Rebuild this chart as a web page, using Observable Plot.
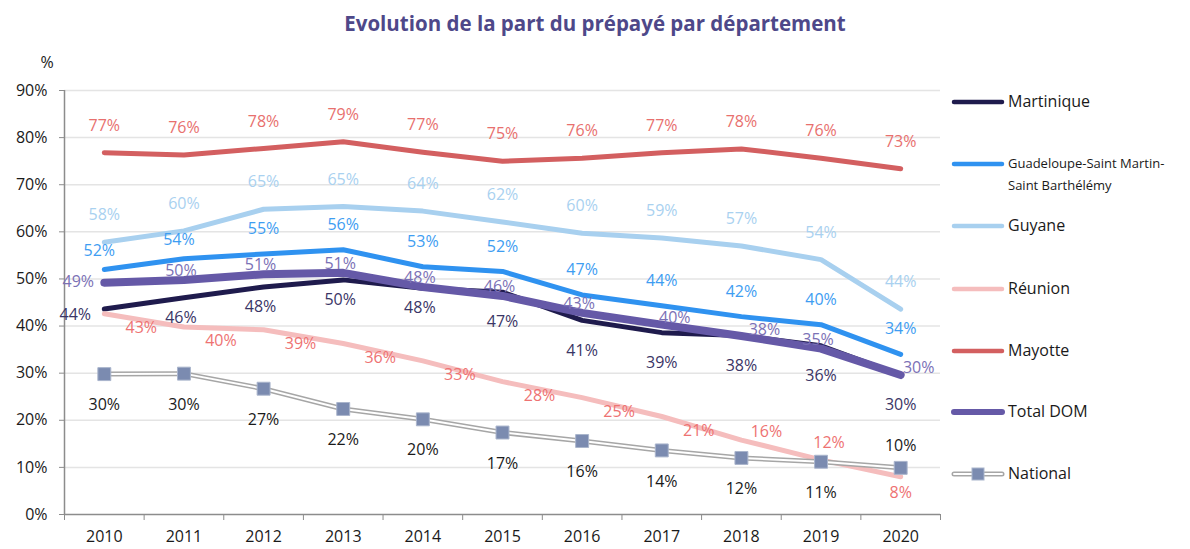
<!DOCTYPE html>
<html><head><meta charset="utf-8">
<script src="https://cdn.jsdelivr.net/npm/d3@7"></script>
<script src="https://cdn.jsdelivr.net/npm/@observablehq/plot@0.6"></script>
<style>
body{margin:0;background:#fff;font-family:"Open Sans",sans-serif;}
#wrap{position:relative;width:1190px;height:549px;overflow:hidden;}
#title{height:40px;line-height:46px;text-align:center;font-weight:bold;font-size:20.5px;color:#4e4889;width:1190px;}
#legend{position:absolute;left:0;top:0;width:1190px;height:549px;pointer-events:none;}
.li{position:absolute;left:1008px;font-size:16px;color:#1a1a1a;white-space:nowrap;transform:translateY(-50%);}
.sw{position:absolute;left:950px;transform:translateY(-50%);}
</style>
</head><body>
<div id="wrap">
<div id="title">Evolution de la part du prépayé par département</div>
<div id="chart"></div>
<div id="legend"></div>
</div>
<script>
const years = [2010,2011,2012,2013,2014,2015,2016,2017,2018,2019,2020];
const martinique = [43.6,46.0,48.3,49.8,48.0,47.2,41.2,38.6,38.0,35.8,29.6];
const guadeloupe = [52.0,54.3,55.3,56.2,52.6,51.6,46.6,44.3,42.0,40.3,34.0];
const guyane     = [57.8,60.2,64.8,65.4,64.4,62.1,59.7,58.7,57.0,54.1,43.6];
const reunion    = [42.6,39.8,39.2,36.3,32.6,28.2,24.8,20.8,15.8,11.6,8.0];
const mayotte    = [76.8,76.3,77.7,79.1,76.9,75.0,75.6,76.8,77.6,75.6,73.4];
const totalDom   = [49.2,49.8,51.0,51.3,48.3,46.4,42.8,40.3,37.9,35.2,29.6];
const national   = [29.8,29.9,26.7,22.4,20.2,17.4,15.6,13.6,12.0,11.2,9.9];
const yTicks = [0,10,20,30,40,50,60,70,80,90];
const seriesNames = ["Martinique","Guadeloupe-Saint Martin-Saint Barthélémy","Guyane","Réunion","Mayotte","Total DOM","National"];

// styles
const S = {
  "Martinique": {stroke:"#1f1b4d", width:5, label:"#3a3566"},
  "Guadeloupe-Saint Martin-Saint Barthélémy": {stroke:"#2f92f0", width:5, label:"#3e9df2"},
  "Guyane": {stroke:"#a8d0ef", width:5, label:"#a9d1f0"},
  "Réunion": {stroke:"#f5bdbd", width:5, label:"#ee7272"},
  "Mayotte": {stroke:"#d35f60", width:5, label:"#e8706e"},
  "Total DOM": {stroke:"#6559a7", width:8, label:"#7b71b6"},
  "National": {stroke:"#a6a6a6", width:5, label:"#1a1a1a"}
};
const valuesBySeries = [martinique,guadeloupe,guyane,reunion,mayotte,totalDom,national];
const rows = [];
seriesNames.forEach((s,k)=>years.forEach((y,i)=>rows.push({series:s, year:y, value:valuesBySeries[k][i], i})));

function off(s,i){
  switch(s){
    case "Mayotte": return [0,-27];
    case "Guyane": return [0,-27];
    case "Guadeloupe-Saint Martin-Saint Barthélémy": return i<2?[-5,-19]:[0,-25];
    case "Martinique": return i===0?[-29,6]:(i<5?[-3,20]:[0,30]);
    case "Total DOM": return i===0?[-26,-1]:i===10?[18,-7]:i===7?[13,-7]:i===8?[23,-6]:[-3,-9];
    case "Réunion": return i<8?[37,14]:i===8?[25,-8]:i===9?[8,-17]:[0,16];
    case "National": return i===10?[0,-22]:[0,31];
  }
}

const marks = [];
marks.push(Plot.ruleY(yTicks.filter(d=>d>0), {stroke:"#e4e4e4", strokeWidth:1.5}));
marks.push(Plot.axisY({ticks:yTicks, tickFormat:d=>d+"%", tickSize:5, tickPadding:12, fontSize:16, stroke:"#8c8c8c", fill:"#1a1a1a", label:null}));
marks.push(Plot.axisX({ticks:d3.range(2009.5,2021,1), tickSize:6, tickFormat:()=>"", stroke:"#8c8c8c", label:null}));
marks.push(Plot.axisX({ticks:years, tickSize:0, tickPadding:16, tickFormat:d=>String(d), fontSize:16, fill:"#1a1a1a", label:null}));
marks.push(Plot.ruleX([2009.5], {y1:0, y2:90, stroke:"#8c8c8c", strokeWidth:1.5}));
marks.push(Plot.ruleY([0], {stroke:"#8c8c8c", strokeWidth:1.5}));
marks.push(Plot.text(["%"], {frameAnchor:"top-left", dx:-24, dy:-34, fontSize:16, fill:"#1a1a1a"}));

for (const s of seriesNames) {
  const d = rows.filter(r=>r.series===s);
  if (s==="National") {
    marks.push(Plot.line(d, {x:"year", y:"value", stroke:"#a6a6a6", strokeWidth:5}));
    marks.push(Plot.line(d, {x:"year", y:"value", stroke:"#ffffff", strokeWidth:2}));
    marks.push(Plot.dot(d, {x:"year", y:"value", symbol:"square", r:7.3, fill:"#7b8bb0", stroke:"#aab5cc", strokeWidth:1}));
  } else {
    marks.push(Plot.line(d, {x:"year", y:"value", stroke:S[s].stroke, strokeWidth:S[s].width, strokeLinecap:"round", strokeLinejoin:"round"}));
  }
}
// labels grouped by offset
for (const s of seriesNames) {
  const d = rows.filter(r=>r.series===s);
  const groups = d3.group(d, r=>off(s,r.i).join(","));
  for (const [key, g] of groups) {
    const [dx,dy] = key.split(",").map(Number);
    marks.push(Plot.text(g, {x:"year", y:"value", text:r=>Math.round(r.value)+"%", dx, dy, fill:S[s].label, fontSize:16}));
  }
}

const chart = Plot.plot({
  width:1190, height:509,
  marginLeft:64, marginRight:250, marginTop:50, marginBottom:35,
  x:{type:"linear", domain:[2009.5,2020.5]},
  y:{domain:[0,90]},
  style:{fontFamily:"'Open Sans', sans-serif", fontSize:"16px", background:"#fff", overflow:"visible"},
  marks
});
document.getElementById("chart").appendChild(chart);

// legend
const leg = document.getElementById("legend");
const items = [
  {name:"Martinique", y:101},
  {name:"Guadeloupe-Saint Martin-Saint Barthélémy", y:163, lines:["Guadeloupe-Saint Martin-","Saint Barthélémy"]},
  {name:"Guyane", y:225},
  {name:"Réunion", y:288},
  {name:"Mayotte", y:350},
  {name:"Total DOM", y:411},
  {name:"National", y:473}
];
for (const it of items) {
  const st = S[it.name];
  let sw;
  if (it.name==="National") {
    sw = `<svg width="56" height="16"><line x1="4" x2="52" y1="8" y2="8" stroke="#a6a6a6" stroke-width="5" stroke-linecap="round"/><line x1="4" x2="52" y1="8" y2="8" stroke="#fff" stroke-width="2" stroke-linecap="round"/><rect x="22" y="2" width="12" height="12" fill="#7b8bb0" stroke="#aab5cc"/></svg>`;
  } else {
    sw = `<svg width="56" height="16"><line x1="4" x2="52" y1="8" y2="8" stroke="${st.stroke}" stroke-width="${st.width===8?6:4.5}" stroke-linecap="round"/></svg>`;
  }
  const d = document.createElement("div"); d.className="sw"; d.style.top=it.y+"px"; d.style.height="16px"; d.innerHTML=sw; leg.appendChild(d);
  if (it.lines) {
    it.lines.forEach((t,j)=>{const e=document.createElement("div"); e.className="li"; e.style.fontSize="13px"; e.style.top=(it.y+j*22)+"px"; e.textContent=t; leg.appendChild(e);});
  } else {
    const e=document.createElement("div"); e.className="li"; e.style.top=it.y+"px"; e.textContent=it.name; leg.appendChild(e);
  }
}
</script>
</body></html>
